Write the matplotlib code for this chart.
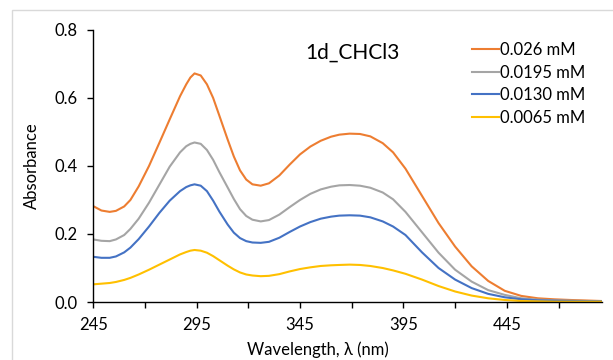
import matplotlib
matplotlib.use("Agg")
import matplotlib.pyplot as plt
from matplotlib.patches import Rectangle

plt.rcParams['font.family'] = ['Lato', 'DejaVu Sans']

# wavelengths (nm)
wl = [245, 249, 253, 256, 260, 263, 267, 272, 277, 282,
      287, 290, 292, 294, 297, 300, 303, 306, 310, 313,
      316, 319, 322, 326, 330, 335, 340, 345, 350, 355,
      360, 364, 369, 374, 379, 385, 390, 396, 404, 412,
      420, 428, 436, 444, 452, 460, 468, 476, 491]

abs_0260 = [0.282, 0.269, 0.265, 0.268, 0.281, 0.300, 0.340, 0.400, 0.468, 0.537,
            0.605, 0.640, 0.660, 0.672, 0.666, 0.640, 0.600, 0.548, 0.478, 0.428,
            0.387, 0.360, 0.346, 0.342, 0.349, 0.372, 0.404, 0.434, 0.457, 0.474,
            0.486, 0.492, 0.495, 0.494, 0.487, 0.467, 0.440, 0.392, 0.312, 0.232,
            0.163, 0.105, 0.062, 0.033, 0.018, 0.011, 0.008, 0.006, 0.003]
abs_0195 = [0.184, 0.180, 0.179, 0.184, 0.197, 0.215, 0.245, 0.292, 0.345, 0.398,
            0.440, 0.458, 0.465, 0.469, 0.465, 0.447, 0.418, 0.382, 0.337, 0.303,
            0.273, 0.253, 0.242, 0.237, 0.241, 0.257, 0.279, 0.300, 0.318, 0.331,
            0.339, 0.343, 0.344, 0.342, 0.336, 0.322, 0.302, 0.265, 0.205, 0.145,
            0.095, 0.060, 0.035, 0.021, 0.011, 0.007, 0.005, 0.004, 0.002]
abs_0130 = [0.133, 0.130, 0.130, 0.134, 0.146, 0.160, 0.185, 0.222, 0.262, 0.298,
            0.326, 0.338, 0.343, 0.346, 0.342, 0.326, 0.298, 0.266, 0.228, 0.204,
            0.188, 0.179, 0.175, 0.174, 0.177, 0.189, 0.206, 0.222, 0.235, 0.245,
            0.251, 0.254, 0.255, 0.254, 0.249, 0.237, 0.222, 0.197, 0.146, 0.100,
            0.066, 0.041, 0.024, 0.014, 0.008, 0.005, 0.004, 0.003, 0.002]
abs_0065 = [0.052, 0.054, 0.056, 0.059, 0.065, 0.071, 0.081, 0.095, 0.110, 0.125,
            0.140, 0.147, 0.151, 0.153, 0.151, 0.145, 0.135, 0.123, 0.107, 0.096,
            0.087, 0.081, 0.078, 0.076, 0.077, 0.082, 0.090, 0.097, 0.102, 0.106,
            0.108, 0.109, 0.110, 0.109, 0.106, 0.100, 0.093, 0.083, 0.066, 0.047,
            0.031, 0.019, 0.011, 0.006, 0.003, 0.002, 0.001, 0.001, 0.001]

series = [
    ("0.026 mM", abs_0260, "#ED7D31"),
    ("0.0195 mM", abs_0195, "#A5A5A5"),
    ("0.0130 mM", abs_0130, "#4472C4"),
    ("0.0065 mM", abs_0065, "#FFC000"),
]

fig = plt.figure(figsize=(6.13, 3.6), dpi=100)
ax = fig.add_axes([0.152, 0.161, 0.830, 0.756])

for label, vals, col in series:
    ax.plot(wl, vals, color=col, lw=1.5, label=label, solid_joinstyle="round")

xt = list(range(245, 491, 25))
ax.set_xlim(245, 491)
ax.set_ylim(0, 0.8)
ax.set_xticks(xt)
ax.set_xticklabels([str(t) if (t - 245) % 50 == 0 else "" for t in xt])
ax.set_yticks([0, 0.2, 0.4, 0.6, 0.8])
ax.set_yticklabels(["0.0", "0.2", "0.4", "0.6", "0.8"])

for s in ["top", "right"]:
    ax.spines[s].set_visible(False)
for s in ["left", "bottom"]:
    ax.spines[s].set_color("black")
    ax.spines[s].set_linewidth(1.0)

ax.tick_params(axis="both", direction="out", length=4, width=1, colors="black",
               labelsize=12)
ax.tick_params(axis="y", pad=7)
ax.tick_params(axis="x", pad=7)

ax.set_ylabel("Absorbance", fontsize=12)
ax.yaxis.set_label_coords(-0.105, 0.5)
ax.set_xlabel("Wavelength, λ (nm)", fontsize=12)
ax.xaxis.set_label_coords(0.442, -0.145)

ax.text(0.51, 0.915, "1d_CHCl3", transform=ax.transAxes, fontsize=15,
        ha="center", va="center")

ax.legend(loc="upper left", bbox_to_anchor=(472 / 613, 1 - 42 / 360),
          bbox_transform=fig.transFigure, frameon=False, fontsize=12,
          handlelength=1.6, handletextpad=0.1, labelspacing=0.4,
          borderpad=0, borderaxespad=0)

# light chart-area border, cut off on the right and bottom
fig.patches.append(Rectangle((12 / 613, -0.1), 1.2, 1.1 - 10 / 360,
                             transform=fig.transFigure, fill=False,
                             edgecolor="#D9D9D9", lw=1.0))

fig.savefig("out.png", dpi=100)
